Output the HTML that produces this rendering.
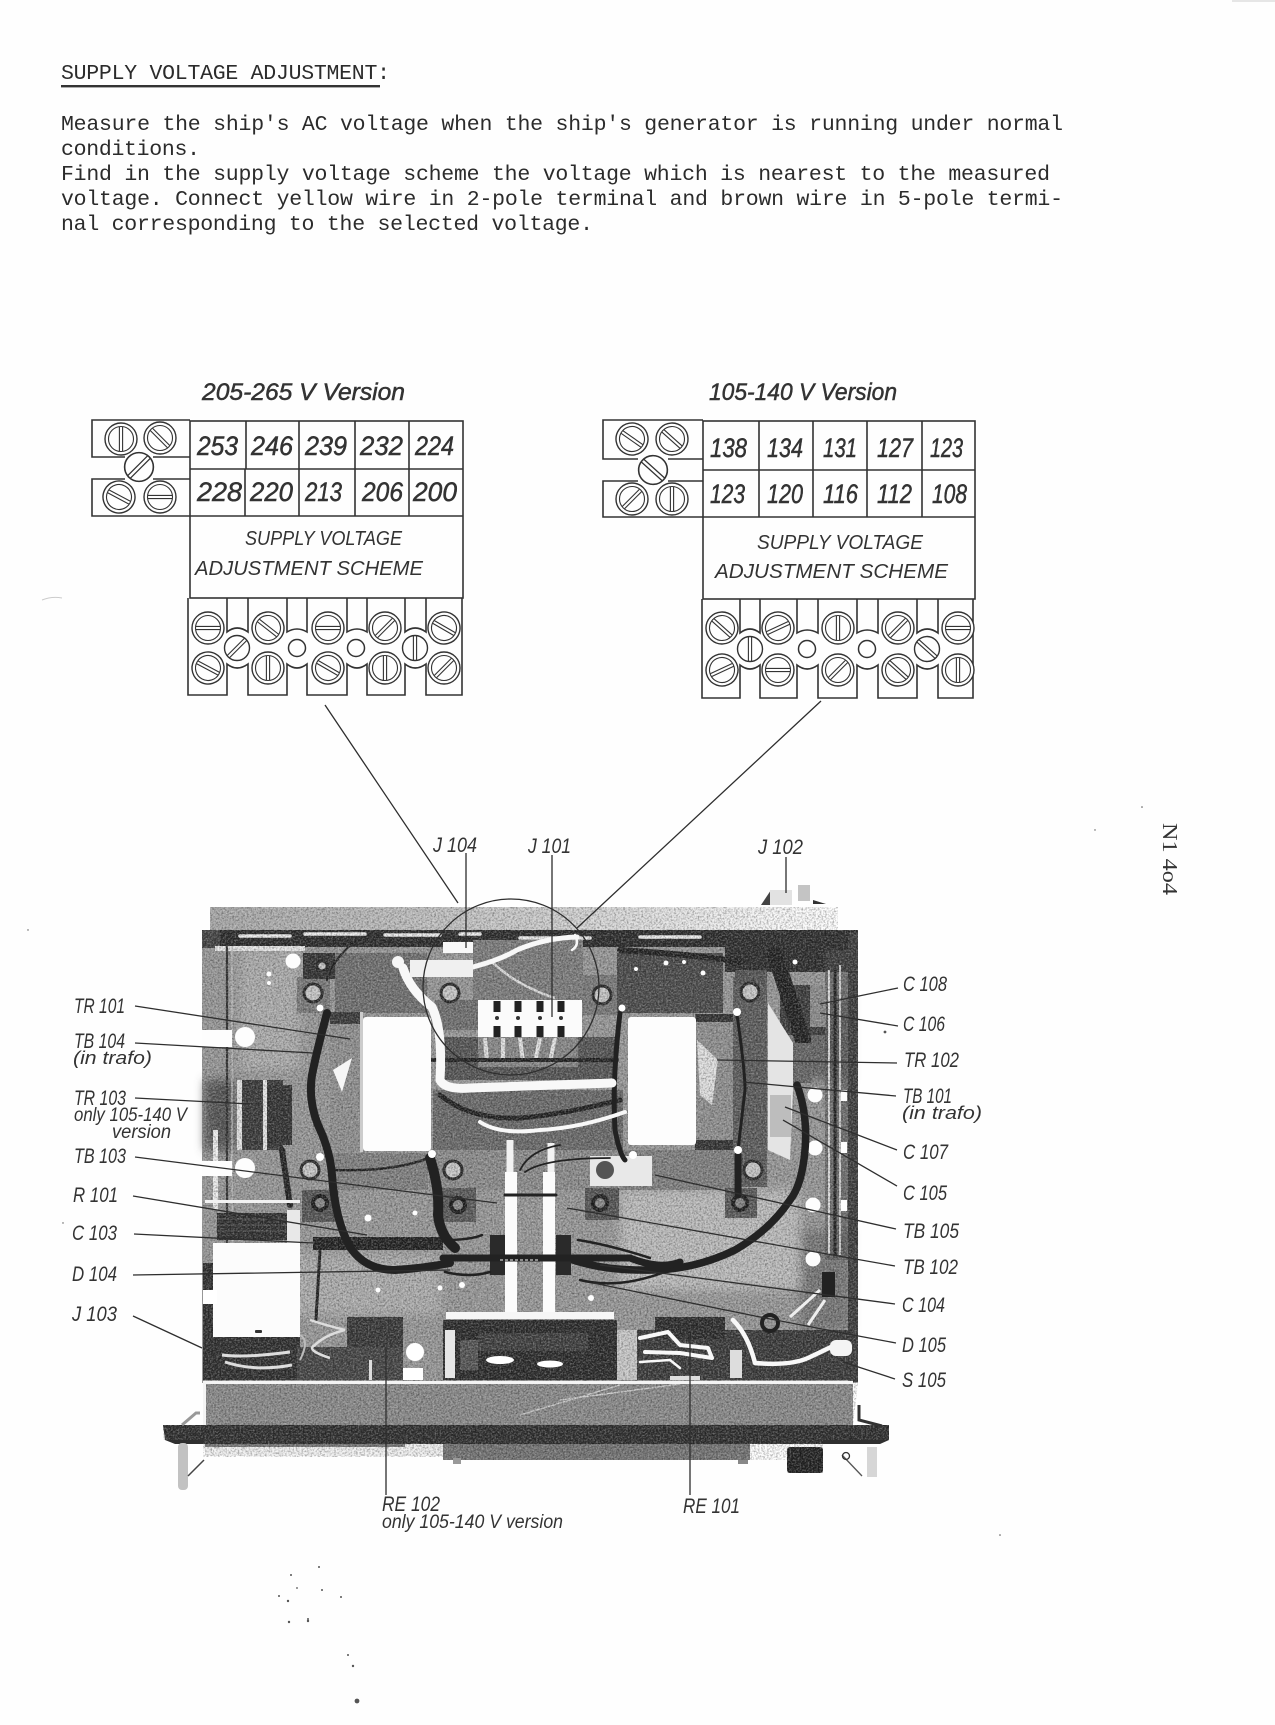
<!DOCTYPE html>
<html lang="en"><head><meta charset="utf-8"><title>Supply Voltage Adjustment</title>
<style>
html,body{margin:0;padding:0;background:#fefefe}
svg{display:block}
.t{font-family:"Liberation Mono",monospace;font-size:21.5px;fill:#2b2b2b}
.l{font-family:"Liberation Sans",sans-serif;font-style:italic;fill:#333}
.n{font-size:27px;stroke:#333;stroke-width:.5}
.h{font-size:24px;stroke:#333;stroke-width:.5}
.c{font-size:20px}
.p{font-size:21px}
.ln{stroke:#2e2e2e;stroke-width:1.3;fill:none}
.bx{stroke:#333;stroke-width:1.6;fill:none}
.k{stroke:#222;fill:none;stroke-linecap:round;stroke-linejoin:round}
.w{stroke:#f8f8f8;fill:none;stroke-linecap:round;stroke-linejoin:round}
</style></head><body>
<svg xmlns="http://www.w3.org/2000/svg" width="1275" height="1725" viewBox="0 0 1275 1725">
<defs>
<g id="s"><circle r="16" fill="#fefefe" stroke="#333" stroke-width="1.4"/><circle r="12.5" fill="none" stroke="#333" stroke-width="1.1"/><path d="M-12 -1.6H12M-12 1.6H12" stroke="#333" stroke-width="1.1"/></g>
<g id="m"><circle r="12.5" fill="#fefefe" stroke="#333" stroke-width="1.4"/><path d="M-12 -1.6H12M-12 1.6H12" stroke="#333" stroke-width="1.1"/></g>
<linearGradient id="strip" x1="0" x2="1" y1="0" y2="0"><stop offset="0" stop-color="#a8a8a8"/><stop offset=".55" stop-color="#cfcfcf"/><stop offset=".9" stop-color="#f8f8f8"/><stop offset="1" stop-color="#fefefe"/></linearGradient>
<filter id="grain" x="0" y="0" width="100%" height="100%"><feTurbulence type="fractalNoise" baseFrequency=".55" numOctaves="2" seed="4"/><feColorMatrix type="matrix" values="0 0 0 0 0  0 0 0 0 0  0 0 0 0 0  2.6 0 0 0 -1.05"/></filter>
<filter id="grainw" x="0" y="0" width="100%" height="100%"><feTurbulence type="fractalNoise" baseFrequency=".6" numOctaves="2" seed="11"/><feColorMatrix type="matrix" values="0 0 0 0 1  0 0 0 0 1  0 0 0 0 1  2.6 0 0 0 -1.05"/></filter>
<filter id="soft3"><feGaussianBlur stdDeviation="5"/></filter>
<clipPath id="pc"><path d="M210 907H838V930H858V1383L853 1425H889V1440H823V1473H787V1460H443V1457H203V1440H163V1425H203V1380L202 930H210Z"/></clipPath>
</defs>

<rect width="1275" height="1725" fill="#fefefe"/>
<rect x="1232" y="0" width="43" height="2" fill="#e6e6e6"/>

<!-- Body text -->
<text class="t" x="61" y="79" textLength="329" lengthAdjust="spacing">SUPPLY VOLTAGE ADJUSTMENT:</text>
<rect x="61" y="85" width="319" height="2.4" fill="#333"/>
<text class="t" x="61" y="130" textLength="1002" lengthAdjust="spacing">Measure the ship's AC voltage when the ship's generator is running under normal</text>
<text class="t" x="61" y="155" textLength="139" lengthAdjust="spacing">conditions.</text>
<text class="t" x="61" y="180" textLength="989" lengthAdjust="spacing">Find in the supply voltage scheme the voltage which is nearest to the measured</text>
<text class="t" x="61" y="205" textLength="1002" lengthAdjust="spacing">voltage. Connect yellow wire in 2-pole terminal and brown wire in 5-pole termi-</text>
<text class="t" x="61" y="230" textLength="532" lengthAdjust="spacing">nal corresponding to the selected voltage.</text>

<!-- Left scheme -->
<text class="l h" x="202" y="400" textLength="203" lengthAdjust="spacingAndGlyphs">205-265 V Version</text>
<rect class="bx" x="190" y="421" width="273" height="177" stroke-width="2"/>
<path class="bx" d="M190 469H463M190 516H463M246 421V469M245 469V516M299 421V516M355 421V516M409 421V516"/>
<path class="bx" d="M190 420H92V457H125M153 457H190M190 479H153M125 479H92V516H190"/>
<text class="l n" x="197" y="455" textLength="41" lengthAdjust="spacingAndGlyphs">253</text>
<text class="l n" x="251" y="455" textLength="42" lengthAdjust="spacingAndGlyphs">246</text>
<text class="l n" x="305" y="455" textLength="42" lengthAdjust="spacingAndGlyphs">239</text>
<text class="l n" x="360" y="455" textLength="43" lengthAdjust="spacingAndGlyphs">232</text>
<text class="l n" x="415" y="455" textLength="39" lengthAdjust="spacingAndGlyphs">224</text>
<text class="l n" x="197" y="501" textLength="45" lengthAdjust="spacingAndGlyphs">228</text>
<text class="l n" x="250" y="501" textLength="43" lengthAdjust="spacingAndGlyphs">220</text>
<text class="l n" x="305" y="501" textLength="37" lengthAdjust="spacingAndGlyphs">213</text>
<text class="l n" x="362" y="501" textLength="41" lengthAdjust="spacingAndGlyphs">206</text>
<text class="l n" x="413" y="501" textLength="44" lengthAdjust="spacingAndGlyphs">200</text>
<text class="l c" x="245" y="545" textLength="157" lengthAdjust="spacingAndGlyphs">SUPPLY VOLTAGE</text>
<text class="l c" x="195" y="575" textLength="228" lengthAdjust="spacingAndGlyphs">ADJUSTMENT SCHEME</text>
<use href="#s" transform="translate(121 439) rotate(90)"/><use href="#s" transform="translate(160 438) rotate(45)"/>
<use href="#m" transform="translate(139 467) scale(1.15) rotate(-45)"/>
<use href="#s" transform="translate(119 497) rotate(28)"/><use href="#s" transform="translate(160 497)"/>
<path class="bx" d="M188 598V695H227V664Q237 672 248 664V695H287V664Q297 672 307 664V695H347V664Q357 672 367 664V695H405V664Q415 672 426 664V695H462V598"/>
<path class="bx" d="M227 598V632Q237 624 248 632V598M287 598V632Q297 626 307 632V598M347 598V632Q357 626 367 632V598M405 598V632Q415 624 426 632V598"/>
<use href="#s" transform="translate(208 628)"/><use href="#s" transform="translate(268 628) rotate(38)"/><use href="#s" transform="translate(328 628)"/><use href="#s" transform="translate(385 628) rotate(-45)"/><use href="#s" transform="translate(444 628) rotate(30)"/>
<use href="#s" transform="translate(208 668) rotate(28)"/><use href="#s" transform="translate(268 668) rotate(90)"/><use href="#s" transform="translate(328 668) rotate(30)"/><use href="#s" transform="translate(385 668) rotate(90)"/><use href="#s" transform="translate(444 668) rotate(-45)"/>
<use href="#m" transform="translate(237 648) rotate(-45)"/><use href="#m" transform="translate(415 648) rotate(90)"/>
<circle cx="297" cy="648" r="8.5" fill="#fefefe" stroke="#333" stroke-width="1.5"/><circle cx="356" cy="648" r="8.5" fill="#fefefe" stroke="#333" stroke-width="1.5"/>

<!-- Right scheme -->
<text class="l h" x="709" y="400" textLength="188" lengthAdjust="spacingAndGlyphs">105-140 V Version</text>
<rect class="bx" x="703" y="421" width="272" height="178" stroke-width="2"/>
<path class="bx" d="M703 470H975M703 517H975M759 421V517M813 421V517M867 421V517M922 421V517"/>
<path class="bx" d="M703 420H603V459H638M668 459H703M703 481H668M638 481H603V517H703"/>
<text class="l n" x="710" y="457" textLength="37" lengthAdjust="spacingAndGlyphs">138</text>
<text class="l n" x="767" y="457" textLength="36" lengthAdjust="spacingAndGlyphs">134</text>
<text class="l n" x="823" y="457" textLength="34" lengthAdjust="spacingAndGlyphs">131</text>
<text class="l n" x="877" y="457" textLength="36" lengthAdjust="spacingAndGlyphs">127</text>
<text class="l n" x="930" y="457" textLength="33" lengthAdjust="spacingAndGlyphs">123</text>
<text class="l n" x="710" y="503" textLength="35" lengthAdjust="spacingAndGlyphs">123</text>
<text class="l n" x="767" y="503" textLength="36" lengthAdjust="spacingAndGlyphs">120</text>
<text class="l n" x="823" y="503" textLength="35" lengthAdjust="spacingAndGlyphs">116</text>
<text class="l n" x="877" y="503" textLength="35" lengthAdjust="spacingAndGlyphs">112</text>
<text class="l n" x="932" y="503" textLength="35" lengthAdjust="spacingAndGlyphs">108</text>
<text class="l c" x="757" y="549" textLength="166" lengthAdjust="spacingAndGlyphs">SUPPLY VOLTAGE</text>
<text class="l c" x="715" y="578" textLength="233" lengthAdjust="spacingAndGlyphs">ADJUSTMENT SCHEME</text>
<use href="#s" transform="translate(632 439) rotate(35)"/><use href="#s" transform="translate(672 439) rotate(42)"/>
<use href="#m" transform="translate(653 470) scale(1.15) rotate(42)"/>
<use href="#s" transform="translate(632 499) rotate(-45)"/><use href="#s" transform="translate(672 499) rotate(90)"/>
<path class="bx" d="M702 599V698H740V665Q750 673 760 665V698H797V665Q807 673 818 665V698H857V665Q867 673 878 665V698H917V665Q927 673 938 665V698H973V599"/>
<path class="bx" d="M740 599V633Q750 625 760 633V599M797 599V633Q807 627 818 633V599M857 599V633Q867 627 878 633V599M917 599V633Q927 625 938 633V599"/>
<use href="#s" transform="translate(722 628) rotate(42)"/><use href="#s" transform="translate(778 628) rotate(-25)"/><use href="#s" transform="translate(838 628) rotate(90)"/><use href="#s" transform="translate(898 628) rotate(-45)"/><use href="#s" transform="translate(958 628)"/>
<use href="#s" transform="translate(722 670) rotate(-25)"/><use href="#s" transform="translate(778 670)"/><use href="#s" transform="translate(838 670) rotate(-45)"/><use href="#s" transform="translate(898 670) rotate(42)"/><use href="#s" transform="translate(958 670) rotate(90)"/>
<use href="#m" transform="translate(750 649) rotate(90)"/><use href="#m" transform="translate(927 649) rotate(42)"/>
<circle cx="807" cy="649" r="8.5" fill="#fefefe" stroke="#333" stroke-width="1.5"/><circle cx="867" cy="649" r="8.5" fill="#fefefe" stroke="#333" stroke-width="1.5"/>

<!-- Photograph -->
<g>
<rect x="210" y="907" width="630" height="23" fill="url(#strip)"/>
<rect x="202" y="930" width="656" height="453" fill="#989898"/>
<g filter="url(#soft3)">
<rect x="205" y="1080" width="30" height="70" fill="#555"/>
<rect x="240" y="950" width="60" height="120" fill="#adadad"/>
<rect x="620" y="1190" width="180" height="100" fill="#bcbcbc"/>
<rect x="290" y="1255" width="150" height="60" fill="#adadad"/>
<rect x="790" y="1000" width="60" height="80" fill="#666"/>
<rect x="800" y="1230" width="50" height="100" fill="#777"/>
</g>
<rect x="202" y="930" width="656" height="17" fill="#2c2c2c"/>
<path d="M240 936H290M305 934H365M385 935H440M460 934H480M520 938H590M640 937H700M740 936H790" stroke="#eee" stroke-width="3.5" stroke-linecap="round"/>
<rect x="202" y="930" width="18" height="18" fill="#444"/>
<rect x="215" y="946" width="90" height="5" fill="#e8e8e8"/>
<path d="M227 946V1260" stroke="#333" stroke-width="2.2"/>
<path d="M232 946V1260" stroke="#bbb" stroke-width="1.4"/>
<rect x="725" y="932" width="133" height="40" fill="#2e2e2e"/>
<rect x="617" y="953" width="106" height="24" fill="#4a4a4a"/>
<rect x="297" y="977" width="33" height="36" fill="#7a7a7a"/><rect x="303" y="953" width="32" height="26" fill="#333"/>
<rect x="582" y="975" width="35" height="40" fill="#7a7a7a"/>
<rect x="733" y="977" width="34" height="210" fill="#5c5c5c"/>
<rect x="735" y="970" width="32" height="14" fill="#555"/>
<rect x="617" y="977" width="106" height="36" fill="#4c4c4c"/>
<rect x="335" y="953" width="92" height="60" fill="#707070"/>
<rect x="333" y="1153" width="95" height="37" fill="#808080"/>
<rect x="330" y="1012" width="34" height="140" fill="#909090"/>
<rect x="330" y="1012" width="30" height="12" fill="#3a3a3a"/>
<rect x="695" y="1014" width="38" height="135" fill="#909090"/>
<path d="M697 1040L718 1060L712 1105L700 1095Z" fill="#e0e0e0"/>
<rect x="695" y="1014" width="38" height="8" fill="#333"/><rect x="695" y="1140" width="38" height="10" fill="#333"/>
<rect x="617" y="1150" width="120" height="40" fill="#808080"/>
<rect x="473" y="940" width="110" height="60" fill="#7d7d7d"/>
<path d="M490 960Q515 985 555 998" stroke="#ddd" stroke-width="2.5" fill="none"/>
<rect x="435" y="1000" width="45" height="30" fill="#707070"/>
<rect x="437" y="1037" width="180" height="43" fill="#555"/>
<rect x="478" y="1037" width="100" height="30" fill="#888"/>
<path d="M485 1038L487 1062M503 1038L503 1062M520 1038L523 1062M540 1038L535 1062M555 1038L550 1062" stroke="#e4e4e4" stroke-width="4"/>
<path class="k" d="M430 1060H617" stroke-width="4"/>
<rect x="433" y="1090" width="190" height="60" fill="#6a6a6a"/>
<path class="k" d="M440 1095Q470 1120 520 1118Q560 1115 620 1100" stroke-width="5"/>
<rect x="433" y="1150" width="190" height="40" fill="#8c8c8c"/>
<g fill="#c8c8c8" stroke="#2a2a2a" stroke-width="3">
<circle cx="313" cy="993" r="9"/><circle cx="450" cy="993" r="9"/><circle cx="602" cy="995" r="9"/><circle cx="750" cy="992" r="9"/>
<circle cx="310" cy="1170" r="9"/><circle cx="453" cy="1170" r="9"/><circle cx="753" cy="1170" r="9"/>
<circle cx="322" cy="966" r="5"/>
</g>
<rect x="302" y="1190" width="36" height="32" fill="#555"/><rect x="442" y="1188" width="34" height="34" fill="#5a5a5a"/><rect x="585" y="1188" width="34" height="32" fill="#555"/><rect x="725" y="1188" width="32" height="30" fill="#5a5a5a"/>
<g fill="#888" stroke="#1e1e1e" stroke-width="4"><circle cx="320" cy="1203" r="7"/><circle cx="458" cy="1205" r="7"/><circle cx="600" cy="1203" r="7"/><circle cx="740" cy="1203" r="7"/></g>
<rect x="237" y="1080" width="46" height="70" fill="#3a3a3a"/><rect x="237" y="1080" width="5" height="70" fill="#e6e6e6"/><rect x="263" y="1080" width="4" height="70" fill="#e6e6e6"/><rect x="267" y="1085" width="25" height="60" fill="#333"/>
<rect x="213" y="1130" width="5" height="80" fill="#eee"/>
<path class="k" d="M282 1150L290 1205" stroke-width="6"/>
<rect x="825" y="950" width="33" height="310" fill="#4c4c4c" opacity=".55"/>
<rect x="848" y="932" width="10" height="450" fill="#3d3d3d"/>
<path d="M829 970V1255" stroke="#ddd" stroke-width="2"/><path d="M835 970V1255" stroke="#222" stroke-width="3"/><path d="M840 965V1255" stroke="#ccc" stroke-width="2"/>
<rect x="780" y="985" width="45" height="50" fill="#3c3c3c"/>
<rect x="810" y="985" width="16" height="42" fill="#8c8c8c"/>
<path class="k" d="M775 955L803 1040" stroke-width="16"/>
<rect x="777" y="1043" width="34" height="40" fill="#666"/>
<circle cx="786" cy="1052" r="4" fill="#ccc"/><circle cx="786" cy="1068" r="4" fill="#ccc"/>
<path class="k" d="M620 950Q700 955 740 962" stroke-width="6"/>
<path class="k" d="M327 980Q335 955 360 938" stroke-width="2"/>
<path class="k" d="M335 1170Q400 1172 435 1155" stroke-width="2.5"/>
<rect x="217" y="1213" width="70" height="27" fill="#2f2f2f"/>
<path d="M217 1219H287M217 1225H287M217 1231H287" stroke="#555" stroke-width="1"/>
<rect x="203" y="1263" width="27" height="117" fill="#2f2f2f"/>
<rect x="230" y="1337" width="70" height="43" fill="#2f2f2f"/>
<rect x="313" y="1237" width="130" height="13" fill="#222"/>
<path class="k" d="M320 1250L316 1320" stroke-width="3"/>
<rect x="297" y="1347" width="106" height="33" fill="#454545"/>
<rect x="347" y="1317" width="56" height="30" fill="#383838"/>
<rect x="443" y="1320" width="174" height="60" fill="#2b2b2b"/>
<rect x="460" y="1340" width="18" height="30" fill="#555"/>
<rect x="478" y="1333" width="110" height="18" fill="#3f3f3f"/>
<rect x="617" y="1330" width="236" height="50" fill="#3a3a3a"/>
<rect x="617" y="1330" width="20" height="50" fill="#c9c9c9"/>
<rect x="655" y="1317" width="70" height="22" fill="#2c2c2c"/>
<rect x="203" y="1383" width="650" height="42" fill="#8a8a8a"/>
<path d="M560 1400L680 1384M520 1415L620 1385" stroke="#ccc" stroke-width="1.2"/>
<path d="M163 1425H889V1440L880 1444H175L165 1440Z" fill="#2f2f2f"/>
<rect x="205" y="1444" width="238" height="12" fill="#f1f1f1"/>
<rect x="205" y="1444" width="200" height="3" fill="#777"/>
<rect x="443" y="1444" width="307" height="16" fill="#737373"/>
<rect x="787" y="1447" width="36" height="26" rx="3" fill="#222"/>
</g>
<g clip-path="url(#pc)">
<rect x="160" y="900" width="735" height="580" filter="url(#grain)" opacity=".34"/>
<rect x="160" y="900" width="735" height="580" filter="url(#grainw)" opacity=".3"/>
</g>

<!-- clean whites and black wiring above the grain -->
<g>
<path d="M768 1003L793 1043V1090L790 1160L768 1150Z" fill="#e4e4e4"/>
<rect x="770" y="1095" width="21" height="42" fill="#bdbdbd"/>
<path d="M333 1070L352 1058L342 1092Z" fill="#f6f6f6"/>
<rect x="363" y="1017" width="68" height="134" rx="3" fill="#fdfdfd"/>
<rect x="360" y="1012" width="3" height="140" fill="#ccc"/>
<rect x="628" y="1017" width="68" height="128" rx="3" fill="#fdfdfd"/>
<rect x="590" y="1156" width="62" height="30" fill="#e8e8e8"/><circle cx="605" cy="1170" r="9" fill="#555"/>
<rect x="478" y="1000" width="104" height="37" fill="#fbfbfb"/>
<path d="M497 1001V1012M518 1001V1012M540 1001V1012M561 1001V1012M497 1026V1037M518 1026V1037M540 1026V1037M561 1026V1037" stroke="#222" stroke-width="7"/>
<circle cx="497" cy="1018" r="2" fill="#333"/><circle cx="518" cy="1018" r="2" fill="#333"/><circle cx="540" cy="1018" r="2" fill="#333"/><circle cx="561" cy="1018" r="2" fill="#333"/>
<g fill="#fdfdfd"><circle cx="293" cy="961" r="7.5"/><circle cx="245" cy="1037" r="10"/><circle cx="245" cy="1168" r="10"/><rect x="202" y="1030" width="30" height="17"/><rect x="202" y="1161" width="30" height="15"/>
<circle cx="815" cy="1095" r="7.5"/><circle cx="815" cy="1148" r="7.5"/><circle cx="813" cy="1205" r="7.5"/><circle cx="813" cy="1259" r="7.5"/>
<rect x="841" y="1090" width="6" height="11"/><rect x="841" y="1142" width="6" height="11"/><rect x="841" y="1200" width="6" height="11"/>
<circle cx="269" cy="974" r="2.5"/><circle cx="269" cy="983" r="2"/><circle cx="368" cy="1218" r="3.5"/><circle cx="415" cy="1213" r="2.5"/><circle cx="378" cy="1290" r="2.5"/><circle cx="440" cy="1288" r="2.5"/><circle cx="462" cy="1285" r="3"/><circle cx="591" cy="1298" r="3"/>
<circle cx="636" cy="969" r="2"/><circle cx="666" cy="963" r="2.5"/><circle cx="703" cy="973" r="2.5"/><circle cx="684" cy="962" r="2"/><circle cx="795" cy="962" r="2.5"/></g>
<rect x="205" y="1200" width="95" height="3" fill="#f2f2f2"/>
<rect x="287" y="1210" width="13" height="33" fill="#e8e8e8"/>
<rect x="213" y="1243" width="87" height="94" fill="#fcfcfc"/>
<rect x="203" y="1290" width="14" height="14" fill="#fff"/>
<rect x="255" y="1330" width="7" height="3" rx="1" fill="#333"/>
<path d="M222 1355Q245 1358 290 1352M225 1362Q255 1372 292 1365" stroke="#ddd" stroke-width="3" fill="none"/>
<path d="M310 1320Q325 1325 345 1330Q325 1335 315 1345Q305 1350 330 1358" stroke="#ddd" stroke-width="2.5" fill="none"/>
<path d="M300 1335Q310 1340 300 1360" stroke="#bbb" stroke-width="2" fill="none"/>
<rect x="369" y="1360" width="3" height="20" fill="#ddd"/>
<circle cx="415" cy="1352" r="9" fill="#fff"/><rect x="403" y="1368" width="20" height="12" fill="#fff"/>
<path class="k" d="M327 1013Q317 1050 312 1075Q308 1100 318 1125Q330 1150 332 1175Q335 1220 350 1247Q365 1270 395 1270Q425 1268 450 1263" stroke-width="8"/>
<path class="k" d="M620 1013Q612 1080 615 1130Q620 1155 625 1160" stroke-width="5"/>
<path class="k" d="M737 1015Q745 1070 745 1090Q742 1115 738 1150" stroke-width="3"/>
<path class="k" d="M430 1158Q440 1190 438 1215Q440 1235 455 1248" stroke-width="10"/>
<path class="k" d="M738 1155V1195" stroke-width="7"/>
<path class="k" d="M797 1085Q808 1115 805 1150Q802 1185 790 1200Q770 1230 735 1250Q690 1272 640 1270Q600 1270 567 1258" stroke-width="7.5"/>
<path class="w" d="M403 968Q410 990 432 1007Q443 1030 440 1080Q445 1090 470 1088L612 1083" stroke-width="9"/>
<path class="w" d="M473 967Q500 960 517 950Q545 938 577 937" stroke-width="5"/>
<path class="w" d="M480 1122Q500 1135 540 1130Q580 1128 625 1112" stroke-width="4"/>
<rect x="443" y="942" width="30" height="11" fill="#f8f8f8"/>
<rect x="410" y="960" width="63" height="17" fill="#f0f0f0"/>
<circle cx="398" cy="962" r="6" fill="#f6f6f6"/>
<circle cx="320" cy="1008" r="3.5" fill="#fff"/><circle cx="622" cy="1008" r="3.5" fill="#fff"/><circle cx="737" cy="1012" r="4" fill="#fff"/><circle cx="320" cy="1157" r="4" fill="#fff"/><circle cx="432" cy="1154" r="4" fill="#fff"/><circle cx="633" cy="1155" r="4" fill="#fff"/><circle cx="738" cy="1150" r="4" fill="#fff"/>
<path class="w" d="M575 935Q580 945 572 950" stroke-width="2.5"/>
<path d="M510 1140V1172M551 1143V1172" stroke="#f2f2f2" stroke-width="7"/>
<rect x="505" y="1172" width="12" height="143" fill="#fbfbfb"/>
<rect x="543" y="1172" width="12" height="143" fill="#fbfbfb"/>
<rect x="490" y="1235" width="15" height="40" fill="#2a2a2a"/><rect x="556" y="1235" width="15" height="40" fill="#2a2a2a"/>
<path class="k" d="M505 1195H556" stroke-width="3"/>
<path class="k" d="M443 1258H630Q660 1270 680 1262" stroke-width="7"/>
<path d="M500 1260H540" stroke="#ccc" stroke-width="1.2" stroke-dasharray="3 2"/>
<path class="k" d="M445 1240Q470 1240 482 1235M445 1272Q470 1278 490 1272M578 1240Q610 1245 650 1258M580 1280Q620 1290 670 1270" stroke-width="2.5"/>
<path class="k" d="M520 1170Q530 1150 560 1145M525 1172Q545 1158 610 1158" stroke-width="1.8"/>
<rect x="446" y="1312" width="168" height="7" fill="#f6f6f6"/>
<rect x="445" y="1330" width="10" height="48" fill="#e6e6e6"/>
<ellipse cx="500" cy="1360" rx="14" ry="4" fill="#fff"/><ellipse cx="550" cy="1364" rx="13" ry="3.5" fill="#fff"/>
<path class="w" d="M640 1338L668 1332L680 1345L708 1348L712 1358L680 1353L645 1352" stroke-width="4"/>
<path class="w" d="M640 1362L670 1360L680 1368" stroke-width="2.5"/>
<path class="w" d="M733 1320Q748 1335 755 1363Q790 1366 808 1358Q825 1350 835 1345" stroke-width="4.5"/>
<rect x="730" y="1350" width="12" height="28" fill="#ddd"/>
<rect x="830" y="1340" width="22" height="16" rx="6" fill="#f4f4f4"/>
<rect x="670" y="1376" width="30" height="4" fill="#ddd"/>
<circle cx="770" cy="1323" r="8" fill="none" stroke="#222" stroke-width="4"/>
<path d="M790 1317L820 1290M808 1325L825 1300" stroke="#eee" stroke-width="3"/>
<rect x="822" y="1272" width="13" height="25" fill="#222"/>
<rect x="203" y="1381" width="650" height="3" fill="#f4f4f4"/>
<rect x="203" y="1381" width="3" height="44" fill="#f4f4f4"/>
</g>
<!-- feet -->
<rect x="178" y="1443" width="10" height="47" rx="4" fill="#c2c2c2"/>
<path d="M188 1476L204 1460" stroke="#444" stroke-width="1.5"/>
<path d="M182 1425L196 1413H200" stroke="#999" stroke-width="3" fill="none"/>
<rect x="867" y="1447" width="10" height="30" fill="#d6d6d6"/>
<path d="M842 1455L862 1476" stroke="#555" stroke-width="1.3"/><circle cx="846" cy="1456" r="3.5" fill="none" stroke="#333" stroke-width="1.3"/>
<path d="M859 1405V1420L882 1426" stroke="#333" stroke-width="3" fill="none"/>
<rect x="738" y="1460" width="10" height="4" fill="#888"/>
<rect x="453" y="1458" width="8" height="6" fill="#999"/>
<!-- J102 connector -->
<path d="M761 905L771 890L770 905Z" fill="#444"/>
<rect x="770" y="890" width="22" height="15" fill="#e2e2e2"/>
<rect x="798" y="885" width="12" height="16" fill="#c4c4c4"/>
<path d="M813 900L826 904H813Z" fill="#333"/>

<!-- Leaders -->
<g class="ln">
<path d="M325 705L458 903M821 701L577 928"/>
<circle cx="511" cy="987" r="88"/>
<path d="M466 853V948M552 855V1017M786 857V893"/>
<path d="M135 1006L350 1039M135 1043L313 1053M135 1098L250 1104M135 1157L497 1203M133 1196L367 1235M134 1234L313 1243M133 1275L450 1270M133 1316L202 1348"/>
<path d="M898 988L820 1004M898 1026L820 1013M897 1063L717 1060M896 1096L743 1082M897 1150L785 1107M897 1186L783 1120M896 1229L655 1175M895 1266L567 1208M895 1304L600 1265M896 1343L853 1335M853 1335L760 1317L593 1283M895 1379L843 1362"/>
<path d="M690 1495V1335M386 1495V1347"/>
</g>

<!-- Labels -->
<g class="l p">
<text x="433" y="852" textLength="44" lengthAdjust="spacingAndGlyphs">J 104</text>
<text x="528" y="853" textLength="43" lengthAdjust="spacingAndGlyphs">J 101</text>
<text x="758" y="854" textLength="45" lengthAdjust="spacingAndGlyphs">J 102</text>
<text x="74" y="1013" textLength="51" lengthAdjust="spacingAndGlyphs">TR 101</text>
<text x="74" y="1048" textLength="51" lengthAdjust="spacingAndGlyphs">TB 104</text>
<text x="73" y="1064" textLength="79" lengthAdjust="spacingAndGlyphs" font-size="18" style="font-size:18px">(in trafo)</text>
<text x="74" y="1105" textLength="52" lengthAdjust="spacingAndGlyphs">TR 103</text>
<text x="74" y="1121" textLength="113" lengthAdjust="spacingAndGlyphs" style="font-size:19px">only 105-140 V</text>
<text x="112" y="1138" textLength="59" lengthAdjust="spacingAndGlyphs" style="font-size:19px">version</text>
<text x="74" y="1163" textLength="52" lengthAdjust="spacingAndGlyphs">TB 103</text>
<text x="73" y="1202" textLength="45" lengthAdjust="spacingAndGlyphs">R 101</text>
<text x="72" y="1240" textLength="45" lengthAdjust="spacingAndGlyphs">C 103</text>
<text x="72" y="1281" textLength="45" lengthAdjust="spacingAndGlyphs">D 104</text>
<text x="72" y="1321" textLength="45" lengthAdjust="spacingAndGlyphs">J 103</text>
<text x="903" y="991" textLength="44" lengthAdjust="spacingAndGlyphs">C 108</text>
<text x="903" y="1031" textLength="42" lengthAdjust="spacingAndGlyphs">C 106</text>
<text x="904" y="1067" textLength="55" lengthAdjust="spacingAndGlyphs">TR 102</text>
<text x="903" y="1103" textLength="49" lengthAdjust="spacingAndGlyphs">TB 101</text>
<text x="902" y="1119" textLength="80" lengthAdjust="spacingAndGlyphs" style="font-size:18px">(in trafo)</text>
<text x="903" y="1159" textLength="45" lengthAdjust="spacingAndGlyphs">C 107</text>
<text x="903" y="1200" textLength="44" lengthAdjust="spacingAndGlyphs">C 105</text>
<text x="903" y="1238" textLength="56" lengthAdjust="spacingAndGlyphs">TB 105</text>
<text x="903" y="1274" textLength="55" lengthAdjust="spacingAndGlyphs">TB 102</text>
<text x="902" y="1312" textLength="43" lengthAdjust="spacingAndGlyphs">C 104</text>
<text x="902" y="1352" textLength="44" lengthAdjust="spacingAndGlyphs">D 105</text>
<text x="902" y="1387" textLength="44" lengthAdjust="spacingAndGlyphs">S 105</text>
<text x="683" y="1513" textLength="57" lengthAdjust="spacingAndGlyphs">RE 101</text>
<text x="382" y="1511" textLength="58" lengthAdjust="spacingAndGlyphs">RE 102</text>
<text x="382" y="1528" textLength="181" lengthAdjust="spacingAndGlyphs" style="font-size:19px">only 105-140 V version</text>
</g>

<text transform="translate(1163 823) rotate(90)" font-family="'Liberation Serif',serif" font-size="21" fill="#333" textLength="72" lengthAdjust="spacingAndGlyphs">N1 4o4</text>

<!-- specks -->
<g fill="#555">
<circle cx="319" cy="1567" r="1"/><circle cx="291" cy="1575" r="1"/><circle cx="297" cy="1588" r=".9"/><circle cx="322" cy="1590" r="1"/><circle cx="279" cy="1596" r="1"/><circle cx="288" cy="1601" r="1.2"/><circle cx="341" cy="1597" r="1"/><circle cx="289" cy="1622" r="1.2"/><circle cx="308" cy="1621" r="1.2"/><circle cx="308" cy="1619" r="1"/><circle cx="348" cy="1655" r="1"/><circle cx="353" cy="1666" r="1.2"/><circle cx="357" cy="1701" r="2.4"/><circle cx="1142" cy="807" r=".8"/><circle cx="885" cy="1032" r="1.4"/><circle cx="1000" cy="1535" r=".8"/><circle cx="63" cy="1223" r=".7"/><circle cx="28" cy="930" r=".7"/><circle cx="1095" cy="830" r=".7"/>
</g>
<path d="M42 600Q52 596 62 598" stroke="#ccc" stroke-width="1" fill="none"/>
</svg>
</body></html>
